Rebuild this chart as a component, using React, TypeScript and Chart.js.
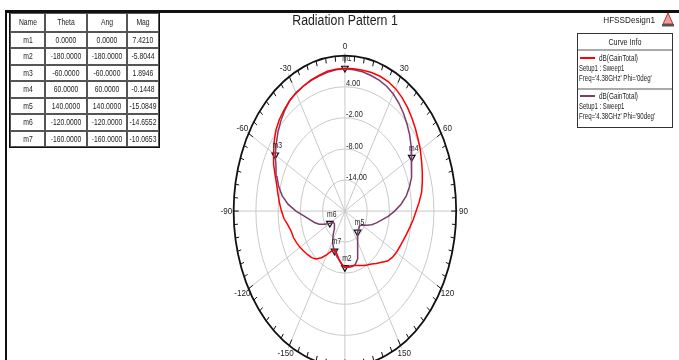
import React, { useEffect, useRef } from "react";
import { Chart, registerables } from "chart.js";
Chart.register(...registerables);

const FONT = '"Liberation Sans", Arial, sans-serif';

const thetaDeg = [
  -180, -175, -170, -165, -160, -155, -150, -145, -140, -135, -130, -125, -120,
  -115, -110, -105, -100, -95, -90, -85, -80, -75, -70, -65, -60, -55, -50, -45,
  -40, -35, -30, -25, -20, -15, -10, -5, 0, 5, 10, 15, 20, 25, 30, 35, 40, 45,
  50, 55, 60, 65, 70, 75, 80, 85, 90, 95, 100, 105, 110, 115, 120, 125, 130, 135,
  140, 145, 150, 155, 160, 165, 170, 175, 180,
];

// dB(GainTotal), Phi = 0deg
const gainPhi0 = [
  -9.1, -9.8, -10.6, -11.5, -12.0, -11.5, -10.3, -9.0, -7.9, -7.3, -6.9, -6.5, -6.0,
  -5.6, -5.2, -5.0, -4.4, -3.5, -2.9, -2.3, -1.7, -1.0, 0.0, 1.2, 2.2, 3.3, 4.3, 5.0,
  5.5, 6.0, 6.4, 6.6, 6.9, 7.1, 7.4, 7.5, 7.6, 7.6, 7.6, 7.7, 7.7, 7.6, 7.3, 6.8, 6.2, 5.5,
  4.8, 4.1, 3.5, 2.8, 2.2, 1.6, 1.0, 0.1, -0.8, -1.5, -2.2, -2.8, -3.3, -3.7, -4.0, -4.4, -5.0, -6.0,
  -6.8, -7.5, -8.0, -8.4, -8.8, -9.1, -9.3, -9.3, -9.1,
];

// dB(GainTotal), Phi = 90deg
const gainPhi90 = [
  -9.1, -9.7, -10.5, -11.1, -11.8, -12.5, -13.4, -14.5, -15.6, -16.1, -16.2, -16.2, -15.3,
  -14.0, -12.6, -11.5, -10.4, -9.0, -6.8, -4.6, -2.8, -1.5, -0.5, 0.5, 1.7, 2.6, 3.6, 4.5,
  5.3, 6.0, 6.3, 6.6, 6.8, 7.0, 7.2, 7.4, 7.5, 7.4, 7.3, 7.1, 6.9, 6.6, 6.1, 5.4, 4.6, 3.7,
  2.8, 1.8, 0.8, -0.1, -1.0, -2.0, -3.2, -4.8, -6.6, -8.3, -10.0, -11.2, -12.3, -13.5, -14.6, -15.1, -15.0, -14.9,
  -14.7, -14.0, -13.0, -11.8, -10.2, -9.3, -9.1, -9.1, -9.1,
];

const radialMin = -20;
const radialMax = 10;
const ringValues = [-14, -8, -2, 4];
const angleTicks = [0, 30, 60, 90, 120, 150, 180, -150, -120, -90, -60, -30];

const markerNames = ["m1", "m2", "m3", "m4", "m5", "m6", "m7"];
const markerTheta = [0, -180, -60, 60, 140, -120, -160];
const markerAng = [0, -180, -60, 60, 140, -120, -160];
const markerMag = [7.421, -5.8044, 1.8946, -0.1448, -15.0849, -14.6552, -10.0653];
const markerTrace = [0, 0, 1, 1, 1, 1, 1];

const traceNames = ["dB(GainTotal)", "dB(GainTotal)"];
const traceSetup = ["Setup1 : Sweep1", "Setup1 : Sweep1"];
const traceFreq = ["Freq='4.38GHz' Phi='0deg'", "Freq='4.38GHz' Phi='90deg'"];
const traceColors = ["#ff0000", "#7a3d6c"];
const traces = [gainPhi0, gainPhi90];

const titleText = "Radiation Pattern 1";
const designText = "HFSSDesign1";

// layout (pixels)
const W = 679;
const H = 360;
const CX = 345;
const CY = 212;
const RX = 113;
const RY = 160;

const norm = (v: number) => (v - radialMin) / (radialMax - radialMin);
const toXY = (t: number, v: number) => {
  const r = norm(v);
  const a = (t * Math.PI) / 180;
  return { x: r * Math.sin(a), y: r * Math.cos(a) };
};

function narrowText(ctx: any, text: string, x: number, y: number, align: string, sx: number) {
  ctx.save();
  ctx.translate(x, y);
  ctx.scale(sx, 1);
  ctx.textAlign = align;
  ctx.fillText(text, 0, 0);
  ctx.restore();
}

const polarPlugin = {
  id: "polarGrid",
  beforeDatasetsDraw(chart: any) {
    const { ctx, scales } = chart;
    const xs = scales.x;
    const ys = scales.y;
    const cx = xs.getPixelForValue(0);
    const cy = ys.getPixelForValue(0);
    const rx = xs.getPixelForValue(1) - cx;
    const ry = cy - ys.getPixelForValue(1);
    ctx.save();
    ctx.strokeStyle = "#c9c9c9";
    ctx.lineWidth = 1;
    ringValues.forEach((v) => {
      const r = norm(v);
      ctx.beginPath();
      ctx.ellipse(cx, cy, rx * r, ry * r, 0, 0, Math.PI * 2);
      ctx.stroke();
    });
    angleTicks.forEach((a) => {
      const t = (a * Math.PI) / 180;
      ctx.beginPath();
      ctx.moveTo(cx, cy);
      ctx.lineTo(cx + rx * 1.02 * Math.sin(t), cy - ry * 1.02 * Math.cos(t));
      ctx.stroke();
    });
    // outer ring
    ctx.strokeStyle = "#111";
    ctx.lineWidth = 1.8;
    ctx.beginPath();
    ctx.ellipse(cx, cy, rx, ry, 0, 0, Math.PI * 2);
    ctx.stroke();
    ctx.lineWidth = 1;
    for (let a = -180; a < 180; a += 5) {
      const t = (a * Math.PI) / 180;
      const s = Math.sin(t);
      const c = Math.cos(t);
      const inner = a % 30 === 0 ? 0.955 : 0.965;
      ctx.beginPath();
      ctx.moveTo(cx + rx * s, cy - ry * c);
      ctx.lineTo(cx + rx * inner * s, cy - ry * inner * c);
      ctx.stroke();
    }
    // angle labels
    ctx.fillStyle = "#222";
    ctx.font = `9.5px ${FONT}`;
    ctx.textBaseline = "middle";
    angleTicks.forEach((a) => {
      const t = (a * Math.PI) / 180;
      narrowText(ctx, String(a), cx + rx * 1.065 * Math.sin(t), cy - ry * 1.06 * Math.cos(t), "center", 0.85);
    });
    // ring labels
    ringValues.forEach((v) => {
      const r = norm(v);
      narrowText(ctx, v.toFixed(2), cx + 1, cy - ry * r - 3, "left", 0.78);
    });
    ctx.restore();
  },
  afterDatasetsDraw(chart: any) {
    const { ctx } = chart;
    const meta = chart.getDatasetMeta(2);
    ctx.save();
    ctx.fillStyle = "#222";
    ctx.font = `8.5px ${FONT}`;
    ctx.textBaseline = "middle";
    meta.data.forEach((pt: any, i: number) => {
      narrowText(ctx, markerNames[i], pt.x + 2, pt.y - 9, "center", 0.8);
    });
    ctx.restore();
  },
};

function Txt(props: { x: number; y: number; size: number; align?: string; color?: string; sx?: number; children: any }) {
  const { x, y, size, align = "left", color = "#222", sx = 1, children } = props;
  const tx = align === "center" ? -50 : align === "right" ? -100 : 0;
  return (
    <div
      style={{
        position: "absolute",
        left: x,
        top: y,
        transform: `translate(${tx}%, -50%) scaleX(${sx})`,
        transformOrigin: align === "center" ? "50% 50%" : align === "right" ? "100% 50%" : "0% 50%",
        fontFamily: FONT,
        fontSize: size,
        lineHeight: 1,
        whiteSpace: "nowrap",
        color,
      }}
    >
      {children}
    </div>
  );
}

const colX = [10, 45, 87, 127];
const colW = [35, 42, 40, 32];
const headH = 19;
const rowH = 16.5;
const tableTop = 12.5;

export default function App() {
  const ref = useRef<HTMLCanvasElement | null>(null);
  useEffect(() => {
    document.body.style.margin = "0";
    if (!ref.current) return;
    const curveData = traces.map((tr) => thetaDeg.map((t, i) => toXY(t, tr[i])));
    const markerData = markerTheta.map((t, i) => {
      const idx = thetaDeg.indexOf(t);
      return toXY(t, traces[markerTrace[i]][idx]);
    });
    const chart = new Chart(ref.current, {
      type: "scatter",
      data: {
        datasets: [
          {
            data: curveData[0],
            showLine: true,
            borderColor: traceColors[0],
            borderWidth: 1.5,
            pointRadius: 0,
            tension: 0,
            clip: false,
          },
          {
            data: curveData[1],
            showLine: true,
            borderColor: traceColors[1],
            borderWidth: 1.5,
            pointRadius: 0,
            tension: 0,
            clip: false,
          },
          {
            data: markerData,
            showLine: false,
            pointStyle: "triangle",
            rotation: 180,
            pointRadius: 3.8,
            borderColor: "#111",
            backgroundColor: "rgba(255,255,255,0)",
            borderWidth: 1.2,
            clip: false,
          },
        ],
      } as any,
      options: {
        responsive: false,
        animation: false,
        layout: { padding: 0 },
        plugins: {
          legend: { display: false },
          tooltip: { enabled: false },
          title: { display: false },
        },
        scales: {
          x: { type: "linear", display: false, min: -CX / RX, max: (W - CX) / RX },
          y: { type: "linear", display: false, min: -(H - CY) / RY, max: CY / RY },
        },
      } as any,
      plugins: [polarPlugin],
    });
    return () => chart.destroy();
  }, []);

  const rows: string[][] = [["Name", "Theta", "Ang", "Mag"]];
  markerNames.forEach((n, i) => {
    rows.push([n, markerTheta[i].toFixed(4), markerAng[i].toFixed(4), markerMag[i].toFixed(4)]);
  });

  return (
    <div style={{ position: "relative", width: W, height: H, overflow: "hidden", background: "#fff" }}>
      <canvas ref={ref} width={W} height={H} style={{ position: "absolute", left: 0, top: 0, width: W, height: H }} />
      {/* frame */}
      <div style={{ position: "absolute", left: 5, top: 10, width: W - 5, height: 2.5, background: "#111" }} />
      <div style={{ position: "absolute", left: 5, top: 10, width: 1.5, height: H - 10, background: "#111" }} />
      {/* marker table */}
      <div
        style={{
          position: "absolute",
          left: colX[0] - 1,
          top: tableTop - 1,
          width: colX[3] + colW[3] - colX[0] + 2,
          height: headH + rowH * 7 + 2,
          border: "1.5px solid #111",
          boxSizing: "border-box",
        }}
      />
      {rows.map((row, r) =>
        row.map((cell, c) => {
          const top = r === 0 ? tableTop : tableTop + headH + (r - 1) * rowH;
          const h = r === 0 ? headH : rowH;
          return (
            <div
              key={`${r}-${c}`}
              style={{
                position: "absolute",
                left: colX[c],
                top,
                width: colW[c],
                height: h,
                border: "1px solid #555",
                boxSizing: "border-box",
              }}
            >
              <Txt x={colW[c] / 2 - 1} y={h / 2 - 1} size={8.5} align="center" sx={0.8}>
                {cell}
              </Txt>
            </div>
          );
        })
      )}
      {/* title */}
      <Txt x={CX} y={20} size={14} align="center" sx={0.88}>
        {titleText}
      </Txt>
      <Txt x={655} y={20} size={9.5} align="right" sx={0.86}>
        {designText}
      </Txt>
      <svg style={{ position: "absolute", left: 661, top: 12 }} width={14} height={16}>
        <polygon points="7,1 12,12 2,12" fill="#e8a0a0" stroke="#c03030" strokeWidth={1} />
        <rect x={1} y={12} width={12} height={2.5} fill="#555" />
      </svg>
      {/* legend box */}
      <div
        style={{
          position: "absolute",
          left: 577,
          top: 33,
          width: 96,
          height: 95,
          border: "1.5px solid #333",
          boxSizing: "border-box",
        }}
      />
      <div style={{ position: "absolute", left: 578, top: 49, width: 94, height: 1.5, background: "#aaa" }} />
      <div style={{ position: "absolute", left: 578, top: 88, width: 94, height: 1.5, background: "#aaa" }} />
      <Txt x={625} y={42} size={9} align="center" sx={0.8}>
        Curve Info
      </Txt>
      {traceNames.map((n, i) => {
        const y0 = 58 + i * 38;
        return (
          <React.Fragment key={i}>
            <div style={{ position: "absolute", left: 580, top: y0 - 1, width: 15, height: 2, background: traceColors[i] }} />
            <Txt x={599} y={y0} size={8.5} sx={0.75}>
              {n}
            </Txt>
            <Txt x={579} y={y0 + 10} size={8.5} sx={0.7}>
              {traceSetup[i]}
            </Txt>
            <Txt x={579} y={y0 + 20} size={8.5} sx={0.72}>
              {traceFreq[i]}
            </Txt>
          </React.Fragment>
        );
      })}
    </div>
  );
}
